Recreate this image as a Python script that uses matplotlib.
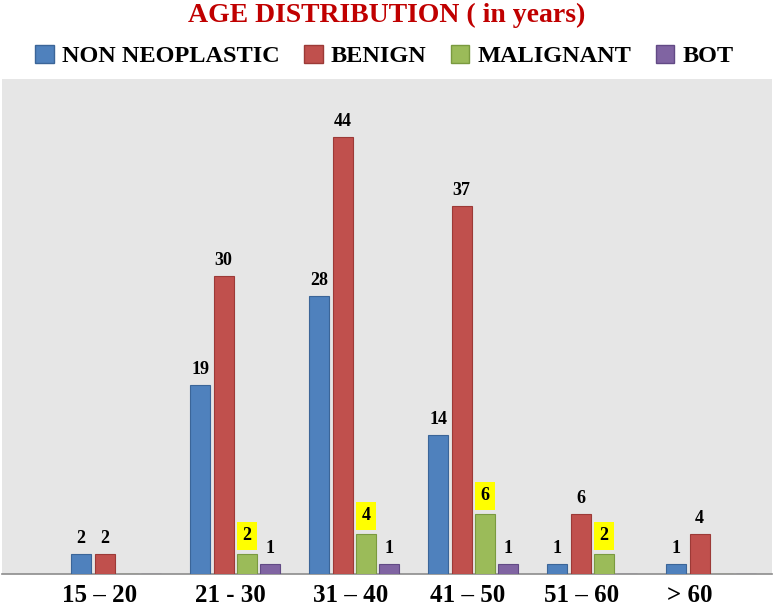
import numpy as np
import matplotlib
matplotlib.use("Agg")
import matplotlib.pyplot as plt
from matplotlib.patches import Patch

# data
age_groups = ["15 \u2013 20", "21 - 30", "31 \u2013 40", "41 \u2013 50", "51 \u2013 60", "> 60"]
series_names = ["NON NEOPLASTIC", "BENIGN", "MALIGNANT", "BOT"]
non_neoplastic = [2, 19, 28, 14, 1, 1]
benign = [2, 30, 44, 37, 6, 4]
malignant = [0, 2, 4, 6, 2, 0]
bot = [0, 1, 1, 1, 0, 0]

colors = ["#4f81bd", "#c0504d", "#9bbb59", "#8064a2"]
edges = ["#3b6598", "#9c3a37", "#7a9a3f", "#624a85"]
label_shift = [-0.14, -0.04, -0.03, -0.05, -0.09, -0.18]

serif = ["Liberation Serif", "DejaVu Serif"]

fig = plt.figure(figsize=(7.74, 6.07), dpi=100)
ax = fig.add_axes([2 / 774, 33 / 607, 770 / 774, 495 / 607])
ax.set_facecolor("#e6e6e6")

x = np.arange(len(age_groups))
width = 0.168
step = 0.197
all_series = [non_neoplastic, benign, malignant, bot]

for i, vals in enumerate(all_series):
    pos = x + (i - 1.5) * step
    bars = ax.bar(pos, vals, width, color=colors[i], edgecolor=edges[i], linewidth=0.8, zorder=3)
    for b, v in zip(bars, vals):
        if v == 0:
            continue
        cx = b.get_x() + b.get_width() / 2
        if i == 2:
            ax.annotate(str(v), (cx, v), xytext=(0, 10), textcoords="offset points",
                        ha="center", va="baseline", fontsize=13, fontweight="bold",
                        family=serif,
                        bbox=dict(boxstyle="square,pad=0.3", fc="#ffff00", ec="none"))
        else:
            ax.annotate(str(v), (cx, v), xytext=(0, 8), textcoords="offset points",
                        ha="center", va="baseline", fontsize=13, fontweight="bold",
                        family=serif)

ax.set_xlim(-0.96, 5.51)
ax.set_ylim(0, 49.8)
ax.set_yticks([])
ax.set_xticks(x + np.array(label_shift))
ax.set_xticklabels(age_groups, fontsize=18, fontweight="bold", family=serif)
ax.tick_params(axis="x", length=0, pad=7)
for s in ["top", "right", "left"]:
    ax.spines[s].set_visible(False)
ax.spines["bottom"].set_color("#8c8c8c")
ax.spines["bottom"].set_linewidth(1.2)

fig.text(0.5, 1 - 15 / 607, "AGE DISTRIBUTION ( in years)", ha="center", va="center",
         fontsize=20, fontweight="bold", color="#c00000", family=serif)

handles = [Patch(facecolor=c, edgecolor=e) for c, e in zip(colors, edges)]
fig.legend(handles, series_names, loc="center", bbox_to_anchor=(0.497, 1 - 56 / 607),
           ncol=4, frameon=False, prop={"family": serif, "size": 17.5, "weight": "bold"},
           handlelength=0.75, handleheight=0.75, handletextpad=0.35, columnspacing=1.0)

fig.savefig("out.png", dpi=100)
